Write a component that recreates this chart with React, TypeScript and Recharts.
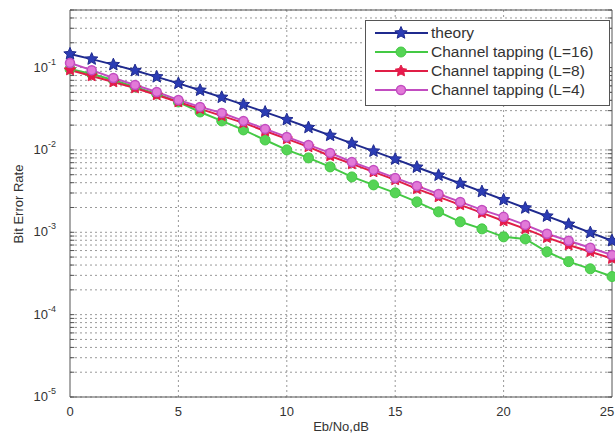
import { LineChart, Line, XAxis, YAxis, ReferenceLine } from "recharts";

// Eb/No in dB, one point per dB
const ebNo = [0, 1, 2, 3, 4, 5, 6, 7, 8, 9, 10, 11, 12, 13, 14, 15, 16, 17, 18, 19, 20, 21, 22, 23, 24, 25];

// bit error rate
const theory = [
  0.1464, 0.1267, 0.1085, 0.0919, 0.0771, 0.0642, 0.053, 0.0435, 0.0355, 0.0288, 0.0233, 0.0187, 0.015,
  0.012, 0.00966, 0.00773, 0.00617, 0.00492, 0.00391, 0.00312, 0.00248, 0.00197, 0.00157, 0.00125, 0.00099, 0.00079,
];
const tap16 = [
  0.0962, 0.0836, 0.0707, 0.0582, 0.0479, 0.0382, 0.0289, 0.0225, 0.0175, 0.0132, 0.01, 0.008, 0.00622,
  0.0047, 0.00376, 0.00301, 0.00234, 0.00177, 0.00134, 0.0011, 0.00088, 0.00083, 0.00058, 0.00044, 0.00036, 0.00029,
];
const tap8 = [
  0.0935, 0.0791, 0.0669, 0.0565, 0.0465, 0.0382, 0.0315, 0.0259, 0.0213, 0.017, 0.0136, 0.0109, 0.00845,
  0.00676, 0.00541, 0.00433, 0.00337, 0.00269, 0.00215, 0.00172, 0.00137, 0.0011, 0.00086, 0.0007, 0.00058, 0.00048,
];
const tap4 = [
  0.1137, 0.093, 0.0748, 0.0615, 0.0506, 0.0404, 0.0333, 0.0281, 0.0225, 0.018, 0.0144, 0.0115, 0.0092,
  0.00714, 0.00572, 0.00457, 0.00366, 0.00292, 0.00234, 0.00187, 0.00154, 0.00123, 0.00096, 0.00079, 0.00065, 0.00053,
];

const xTicks = [0, 5, 10, 15, 20, 25];
const yTicks = [1e-5, 1e-4, 1e-3, 1e-2, 1e-1];
const yTickExp = ["-5", "-4", "-3", "-2", "-1"];

const series = [
  { key: "theory", name: "theory", color: "#1f2a8e", marker: "star" },
  { key: "l16", name: "Channel tapping (L=16)", color: "#44c944", marker: "disc" },
  { key: "l8", name: "Channel tapping (L=8)", color: "#e01e46", marker: "small" },
  { key: "l4", name: "Channel tapping (L=4)", color: "#c24cc0", marker: "ring" },
];

const data = ebNo.map((x, i) => ({ x, theory: theory[i], l16: tap16[i], l8: tap8[i], l4: tap4[i] }));

// log grid: 1..9 per decade, up to the top of the axis
const gridY: number[] = [];
for (let k = -5; k <= -1; k++) {
  for (let m = 1; m <= 9; m++) {
    const v = m * Math.pow(10, k);
    if (v <= 0.5) gridY.push(v);
  }
}
const gridX = [5, 10, 15, 20];

const FONT = "Liberation Sans, Arial, sans-serif";

const starPts = (cx: number, cy: number, R: number, r: number) => {
  const pts: string[] = [];
  for (let i = 0; i < 10; i++) {
    const a = -Math.PI / 2 + (i * Math.PI) / 5;
    const rad = i % 2 === 0 ? R : r;
    pts.push(`${cx + rad * Math.cos(a)},${cy + rad * Math.sin(a)}`);
  }
  return pts.join(" ");
};

function Marker({ type, cx, cy, color }: { type: string; cx: number; cy: number; color: string }) {
  if (type === "star") return <polygon points={starPts(cx, cy, 6.5, 3)} fill="#2b3cb4" stroke={color} strokeWidth={1} />;
  if (type === "disc") return <circle cx={cx} cy={cy} r={5} fill="#55d455" stroke={color} strokeWidth={1} />;
  if (type === "small") return <polygon points={starPts(cx, cy, 6, 3)} fill="#e8194e" stroke={color} strokeWidth={1} />;
  return <circle cx={cx} cy={cy} r={4.5} fill="#e27ad8" stroke={color} strokeWidth={1.5} />;
}

const YTick = ({ x, y, index }: any) => (
  <text x={x - 6} y={y + 4} textAnchor="end" fontSize={13} fill="#333" fontFamily={FONT}>
    10
    <tspan dy={-7} fontSize={9}>
      {yTickExp[index] ?? ""}
    </tspan>
  </text>
);

const XTick = ({ x, y, payload }: any) => (
  <text x={x} y={y + 11} textAnchor="middle" fontSize={13} fill="#333" fontFamily={FONT}>
    {payload.value}
  </text>
);

function LegendBox() {
  return (
    <div style={{ position: "absolute", left: 365, top: 20 }}>
      <svg width={245} height={86} style={{ display: "block" }}>
        <rect x={0.5} y={0.5} width={244} height={85} fill="#fff" stroke="#555" strokeWidth={1} />
        {series.map((s, i) => {
          const y = 13 + i * 19;
          return (
            <g key={s.key}>
              <line x1={10} x2={63} y1={y} y2={y} stroke={s.color} strokeWidth={2} />
              <Marker type={s.marker} cx={36} cy={y} color={s.color} />
              <text x={66} y={y + 5} fontSize={15.5} fill="#333" fontFamily={FONT}>
                {s.name}
              </text>
            </g>
          );
        })}
      </svg>
    </div>
  );
}

export default function App() {
  return (
    <div style={{ position: "absolute", left: 0, top: 0, width: 615, height: 436, background: "#fff" }}>
      <LineChart width={615} height={436} data={data} margin={{ top: 10, right: 3, bottom: 0, left: 0 }}>
        {gridY.map((v) => (
          <ReferenceLine key={`gy-${v}`} y={v} stroke="#999" strokeDasharray="2 3" />
        ))}
        {gridX.map((v) => (
          <ReferenceLine key={`gx-${v}`} x={v} stroke="#999" strokeDasharray="2 3" />
        ))}
        {/* short inside ticks on the left and right edges, like matlab */}
        {gridY.map((v) => (
          <ReferenceLine key={`tl-${v}`} segment={[{ x: 0, y: v }, { x: 0.2, y: v }]} stroke="#555" />
        ))}
        {gridY.map((v) => (
          <ReferenceLine key={`tr-${v}`} segment={[{ x: 24.8, y: v }, { x: 25, y: v }]} stroke="#555" />
        ))}
        <XAxis
          dataKey="x"
          type="number"
          domain={[0, 25]}
          ticks={xTicks}
          height={39}
          stroke="#555"
          tickLine={false}
          tick={<XTick />}
          label={() => (
            <text x={341} y={431} textAnchor="middle" fontSize={13} fill="#333" fontFamily={FONT}>
              Eb/No,dB
            </text>
          )}
        />
        <YAxis
          type="number"
          scale="log"
          domain={[1e-5, 0.5]}
          ticks={yTicks}
          allowDataOverflow
          width={70}
          stroke="#555"
          tickLine={false}
          tick={<YTick />}
          label={() => (
            <text x={23} y={204} transform="rotate(-90 23 204)" textAnchor="middle" fontSize={13} fill="#333" fontFamily={FONT}>
              Bit Error Rate
            </text>
          )}
        />
        <ReferenceLine y={0.5} stroke="#555" strokeWidth={1} ifOverflow="visible" />
        <ReferenceLine x={25} stroke="#555" strokeWidth={1} ifOverflow="visible" />
        {series.map((s) => (
          <Line
            key={s.key}
            dataKey={s.key}
            name={s.name}
            stroke={s.color}
            strokeWidth={2}
            isAnimationActive={false}
            dot={(p: any) => <Marker key={`${s.key}-${p.index}`} type={s.marker} cx={p.cx} cy={p.cy} color={s.color} />}
          />
        ))}
      </LineChart>
      <LegendBox />
    </div>
  );
}
